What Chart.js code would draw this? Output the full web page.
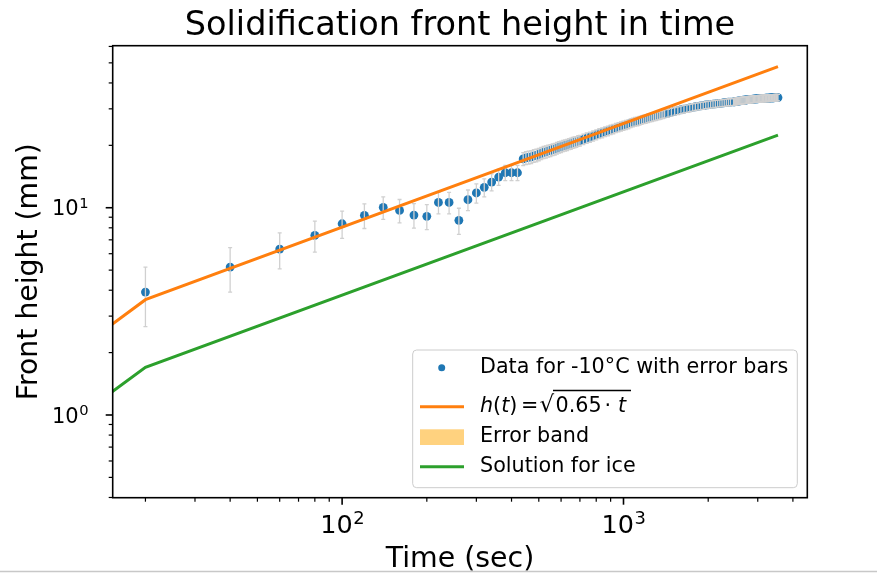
<!DOCTYPE html>
<html>
<head>
<meta charset="utf-8">
<script src="https://cdn.jsdelivr.net/npm/chart.js@4.4.1/dist/chart.umd.min.js"></script>
<style>
  html, body { margin: 0; padding: 0; background: #fff; }
  #wrap { width: 877px; height: 573px; }
</style>
</head>
<body>
<div id="wrap"><canvas id="chart" width="877" height="573"></canvas></div>
<script>
const measuredTimes = [
  20, 40, 60, 80, 100, 120, 140, 160, 180, 200, 220, 240, 260, 280, 300, 320, 340, 360, 380, 400, 420,
  440, 450, 460, 470, 480, 490, 500, 510, 520, 530, 540, 550, 560, 570, 580, 590, 600, 610, 620, 630,
  640, 650, 660, 670, 680, 690, 700,
  720, 740, 760, 780, 800, 820, 840, 860, 880, 900, 920, 940, 960, 980, 1000, 1020, 1040, 1060, 1080,
  1100, 1120, 1140, 1160, 1180, 1200, 1220, 1240, 1260, 1280, 1300, 1320, 1340, 1360, 1380, 1400,
  1440, 1480, 1520, 1560, 1600, 1640, 1680, 1720, 1760, 1800, 1840, 1880, 1920, 1960, 2000, 2040,
  2080, 2120, 2160, 2200, 2240, 2280, 2320, 2360, 2400,
  2460, 2480, 2500, 2520, 2540, 2560, 2580, 2600, 2620, 2640, 2660, 2680, 2700, 2720, 2740, 2760,
  2780, 2800, 2820, 2840, 2860, 2880, 2900, 2920, 2940, 2960, 2980, 3000, 3020, 3040, 3060, 3080,
  3100, 3120, 3140, 3160, 3180, 3200, 3220, 3240, 3260, 3280, 3300, 3320, 3340, 3360, 3380, 3400,
  3420, 3440, 3460, 3480, 3500, 3520, 3540
];
const measuredHeights = [
  3.92, 5.17, 6.32, 7.36, 8.37, 9.19, 10.04, 9.71, 9.22, 9.09, 10.6, 10.6, 8.69, 10.93, 11.78, 12.54, 13.3, 14.06, 14.75, 14.75, 14.75,
  17.2, 17.4, 17.5, 17.6, 17.8, 17.9, 18.1, 18.3, 18.5, 18.6, 18.8, 18.9, 19.1, 19.2, 19.4, 19.6, 19.7, 19.9, 20.0, 20.1,
  20.3, 20.4, 20.6, 20.7, 20.8, 21.0, 21.1,
  21.4, 21.7, 21.9, 22.2, 22.5, 22.8, 23.0, 23.3, 23.5, 23.8, 24.0, 24.3, 24.5, 24.7, 24.9, 25.1, 25.3, 25.6, 25.8,
  26.0, 26.1, 26.3, 26.5, 26.7, 26.8, 27.0, 27.2, 27.3, 27.5, 27.6, 27.8, 27.9, 28.1, 28.2, 28.4,
  28.6, 28.9, 29.2, 29.4, 29.7, 29.9, 30.1, 30.3, 30.5, 30.7, 30.8, 31.0, 31.1, 31.3, 31.4, 31.5,
  31.6, 31.7, 31.8, 31.9, 32.0, 32.1, 32.2, 32.3, 32.3,
  32.4, 32.4, 32.5, 32.6, 32.7, 32.7, 32.8, 32.8, 32.9, 32.9, 33.0, 33.0, 33.0, 33.1, 33.1, 33.2,
  33.2, 33.2, 33.3, 33.3, 33.3, 33.4, 33.4, 33.4, 33.5, 33.5, 33.5, 33.5, 33.6, 33.6, 33.6, 33.6,
  33.7, 33.7, 33.7, 33.7, 33.7, 33.8, 33.8, 33.8, 33.8, 33.8, 33.8, 33.9, 33.9, 33.9, 33.9, 33.9,
  33.9, 34.0, 34.0, 34.0, 34.0, 34.0, 34.0
];
const heightError = 1.25; // mm, same for every point

// model lines (straight in log-log, so a few points are enough)
const modelTimes = [10, 20, 3540];
const modelHeights = [1.8, 3.6, 48.0];      // h(t) = sqrt(0.65 t)
const iceHeights = [0.85, 1.7, 22.4];       // solution for ice

const xMajorTicks = [100, 1000];
const xMinorTicks = [20, 30, 40, 50, 60, 70, 80, 90, 200, 300, 400, 500, 600, 700, 800, 900, 2000, 3000, 4000];
const yMajorTicks = [1, 10];
const yMinorTicks = [0.4, 0.5, 0.6, 0.7, 0.8, 0.9, 2, 3, 4, 5, 6, 7, 8, 9, 20, 30, 40, 50, 60];

const titleText = 'Solidification front height in time';
const xLabel = 'Time (sec)';
const yLabel = 'Front height (mm)';

const blue = '#1f77b4';
const orange = '#ff7f0e';
const green = '#2ca02c';
const FONT = "'DejaVu Sans', sans-serif";

function toXY(xs, ys) {
  return xs.map((x, i) => ({ x: x, y: ys[i] }));
}

// error bars drawn right after the points, before the lines go on top
const errorBars = {
  id: 'errorBars',
  afterDatasetDraw(chart, args) {
    if (args.index !== 3) return;
    const ctx = chart.ctx;
    const xs = chart.scales.x, ys = chart.scales.y;
    const area = chart.chartArea;
    ctx.save();
    ctx.beginPath();
    ctx.rect(area.left, area.top, area.right - area.left, area.bottom - area.top);
    ctx.clip();
    ctx.strokeStyle = '#d0d0d0';
    ctx.lineWidth = 1.3;
    for (let i = 0; i < measuredTimes.length; i++) {
      const px = xs.getPixelForValue(measuredTimes[i]);
      const top = ys.getPixelForValue(measuredHeights[i] + heightError);
      const bot = ys.getPixelForValue(measuredHeights[i] - heightError);
      ctx.beginPath();
      ctx.moveTo(px, top); ctx.lineTo(px, bot);
      ctx.moveTo(px - 2, top); ctx.lineTo(px + 2, top);
      ctx.moveTo(px - 2, bot); ctx.lineTo(px + 2, bot);
      ctx.stroke();
    }
    ctx.restore();
  }
};

// frame, ticks, tick labels, titles, legend
const decorations = {
  id: 'decorations',
  afterDraw(chart) {
    const ctx = chart.ctx;
    const a = chart.chartArea;
    const xs = chart.scales.x, ys = chart.scales.y;
    ctx.save();

    // ticks
    ctx.strokeStyle = '#000';
    const tick = (x1, y1, x2, y2, w) => {
      ctx.lineWidth = w;
      ctx.beginPath(); ctx.moveTo(x1, y1); ctx.lineTo(x2, y2); ctx.stroke();
    };
    xMajorTicks.forEach(v => { const p = xs.getPixelForValue(v); tick(p, a.bottom, p, a.bottom + 7, 1.6); });
    xMinorTicks.forEach(v => { const p = xs.getPixelForValue(v); tick(p, a.bottom, p, a.bottom + 4, 1.2); });
    yMajorTicks.forEach(v => { const p = ys.getPixelForValue(v); tick(a.left, p, a.left - 7, p, 1.6); });
    yMinorTicks.forEach(v => { const p = ys.getPixelForValue(v); tick(a.left, p, a.left - 4, p, 1.2); });

    // frame
    ctx.lineWidth = 1.6;
    ctx.strokeRect(a.left, a.top, a.right - a.left, a.bottom - a.top);

    // tick labels as 10^n
    ctx.fillStyle = '#000';
    ctx.textBaseline = 'alphabetic';
    xMajorTicks.forEach(v => {
      const p = xs.getPixelForValue(v);
      const e = String(Math.round(Math.log10(v)));
      ctx.font = '25.5px ' + FONT; const w1 = ctx.measureText('10').width;
      ctx.font = '17.9px ' + FONT; const w2 = ctx.measureText(e).width;
      const x0 = p - (w1 + w2) / 2;
      ctx.textAlign = 'left';
      ctx.font = '25.5px ' + FONT; ctx.fillText('10', x0, 533);
      ctx.font = '17.9px ' + FONT; ctx.fillText(e, x0 + w1 + 0.5, 524);
    });
    yMajorTicks.forEach(v => {
      const p = ys.getPixelForValue(v);
      const e = String(Math.round(Math.log10(v)));
      ctx.font = '14.7px ' + FONT; const w2 = ctx.measureText(e).width;
      ctx.textAlign = 'right';
      ctx.fillText(e, 88.5, p + 0.5);
      ctx.font = '21px ' + FONT; ctx.fillText('10', 88.5 - w2 - 0.5, p + 7.6);
    });

    // title and axis titles
    ctx.textAlign = 'center';
    ctx.font = '33.5px ' + FONT;
    ctx.fillText(titleText, 460, 34.5);
    ctx.font = '28.4px ' + FONT;
    ctx.fillText(xLabel, 460, 567);
    ctx.save();
    ctx.translate(37.3, (a.top + a.bottom) / 2);
    ctx.rotate(-Math.PI / 2);
    ctx.font = '28.3px ' + FONT;
    ctx.fillText(yLabel, 0, 0);
    ctx.restore();

    // legend
    const L = { left: 412.7, top: 350, right: 797.3, bottom: 487.7 };
    ctx.fillStyle = 'rgba(255,255,255,0.8)';
    ctx.strokeStyle = '#cccccc';
    ctx.lineWidth = 1;
    ctx.beginPath();
    ctx.roundRect(L.left, L.top, L.right - L.left, L.bottom - L.top, 4);
    ctx.fill(); ctx.stroke();

    const hx0 = 420, hx1 = 464, tx = 480;
    const rows = [367.7, 406.7, 436.7, 466.7];
    const ds = chart.data.datasets;
    ctx.fillStyle = ds[3].backgroundColor;
    ctx.beginPath(); ctx.arc(441.7, rows[0], 3.5, 0, Math.PI * 2); ctx.fill();
    ctx.lineWidth = 3;
    ctx.strokeStyle = ds[0].borderColor;
    ctx.beginPath(); ctx.moveTo(hx0, rows[1]); ctx.lineTo(hx1, rows[1]); ctx.stroke();
    ctx.strokeStyle = ds[1].borderColor;
    ctx.beginPath(); ctx.moveTo(hx0, rows[3]); ctx.lineTo(hx1, rows[3]); ctx.stroke();
    ctx.fillStyle = ds[2].backgroundColor;
    ctx.fillRect(hx0, 429.3, hx1 - hx0, 15.7);

    ctx.fillStyle = '#000';
    ctx.textAlign = 'left';
    ctx.textBaseline = 'middle';
    ctx.font = '20.7px ' + FONT;
    ctx.fillText(ds[3].label, tx, rows[0]);
    ctx.fillText(ds[2].label, tx, rows[2]);
    ctx.fillText(ds[1].label, tx, rows[3]);

    // row 2: h(t) = sqrt(0.65 * t), laid out like mathtext
    ctx.textBaseline = 'alphabetic';
    const bl = 412;
    const put = (txt, x, italic, size) => {
      ctx.font = (italic ? 'italic ' : '') + (size || 20.7) + 'px ' + FONT;
      ctx.fillText(txt, x, bl);
      return x + ctx.measureText(txt).width;
    };
    let x = put('h', tx, true);
    x = put('(', x, false);
    x = put('t', x, true);
    put(')', x, false);
    put('=', 521, false);
    put('\u221A', 539.5, false, 23);
    put('0.65', 555.5, false);
    put('\u00B7', 604.5, false);
    put('t', 618, true);
    ctx.lineWidth = 1.3;
    ctx.strokeStyle = '#000';
    ctx.beginPath(); ctx.moveTo(553, 390.5); ctx.lineTo(631, 390.5); ctx.stroke();

    // thin grey line along the bottom edge of the picture
    ctx.strokeStyle = '#c8c8c8';
    ctx.lineWidth = 1.5;
    ctx.beginPath(); ctx.moveTo(0, 571.5); ctx.lineTo(877, 571.5); ctx.stroke();

    ctx.restore();
  }
};

const ctx = document.getElementById('chart').getContext('2d');
const chart = new Chart(ctx, {
  type: 'scatter',
  data: {
    datasets: [
      {
        label: 'h(t) = \u221A(0.65 \u00B7 t)',
        data: toXY(modelTimes, modelHeights),
        showLine: true,
        borderColor: orange,
        borderWidth: 3,
        pointRadius: 0,
        order: 1
      },
      {
        label: 'Solution for ice',
        data: toXY(modelTimes, iceHeights),
        showLine: true,
        borderColor: green,
        borderWidth: 3,
        pointRadius: 0,
        order: 2
      },
      {
        label: 'Error band',
        data: [],
        backgroundColor: 'rgba(255,165,0,0.5)',
        order: 3
      },
      {
        label: 'Data for -10\u00B0C with error bars',
        data: toXY(measuredTimes, measuredHeights),
        backgroundColor: blue,
        borderWidth: 0,
        pointRadius: 4.4,
        order: 4
      }
    ]
  },
  options: {
    responsive: false,
    animation: false,
    devicePixelRatio: 1,
    layout: { padding: { left: 0, right: 69.7, top: 45.7, bottom: 0 } },
    plugins: {
      legend: { display: false },
      tooltip: { enabled: false },
      title: { display: false }
    },
    scales: {
      x: {
        type: 'logarithmic',
        min: 15.3,
        max: 4500,
        grid: { display: false },
        border: { display: false },
        ticks: { display: false },
        afterFit(s) { s.height = 75.3; }
      },
      y: {
        type: 'logarithmic',
        min: 0.399,
        max: 60.5,
        grid: { display: false },
        border: { display: false },
        ticks: { display: false },
        afterFit(s) { s.width = 112.7; }
      }
    }
  },
  plugins: [errorBars, decorations]
});
</script>
</body>
</html>
